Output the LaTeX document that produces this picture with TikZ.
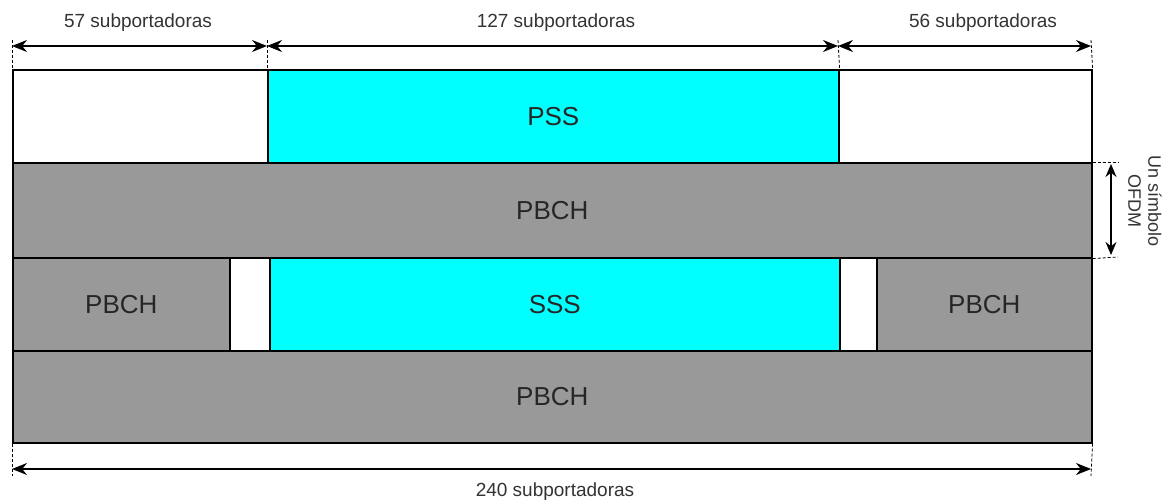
\documentclass[tikz,border=0pt]{standalone}
\usepackage{fontspec}
\setmainfont{Liberation Sans}
\usetikzlibrary{arrows.meta}
\definecolor{bandgray}{HTML}{999999}
\definecolor{sigcyan}{HTML}{00FFFF}
\begin{document}
\begin{tikzpicture}[x=1pt,y=-1pt,
  cell/.style={draw=black,line width=1.6pt,inner sep=0pt,text=black!85,font=\fontsize{26}{28}\selectfont},
  graycell/.style={cell,fill=bandgray},
  cyancell/.style={cell,fill=sigcyan},
  whitecell/.style={cell,fill=white},
  dim/.style={line width=1.8pt,{Stealth[length=15pt,width=12pt]}-{Stealth[length=15pt,width=12pt]}},
  tick/.style={densely dashed,line width=0.8pt},
  lbl/.style={font=\fontsize{19}{20}\selectfont,text=black!80,inner sep=0pt}]
\useasboundingbox (0,0) rectangle (1169,502);
% first symbol: PSS between two empty blocks
\node[whitecell,minimum width=255pt,minimum height=93pt,anchor=north west] (w1) at (12,69) {};
\node[cyancell,minimum width=571pt,minimum height=93pt,anchor=north west] (pss) at (267,69) {PSS};
\node[whitecell,minimum width=253pt,minimum height=93pt,anchor=north west] (w2) at (838,69) {};
% second symbol
\node[graycell,minimum width=1079pt,minimum height=95pt,anchor=north west] (pbch1) at (12,162) {PBCH};
% third symbol: PBCH, guard, SSS, guard, PBCH
\node[graycell,minimum width=217pt,minimum height=93pt,anchor=north west] (pbchl) at (12,257) {PBCH};
\node[whitecell,minimum width=40pt,minimum height=93pt,anchor=north west] (g1) at (229,257) {};
\node[cyancell,minimum width=570pt,minimum height=93pt,anchor=north west] (sss) at (269,257) {SSS};
\node[whitecell,minimum width=37pt,minimum height=93pt,anchor=north west] (g2) at (839,257) {};
\node[graycell,minimum width=215pt,minimum height=93pt,anchor=north west] (pbchr) at (876,257) {PBCH};
% fourth symbol
\node[graycell,minimum width=1079pt,minimum height=92pt,anchor=north west] (pbch2) at (12,350) {PBCH};

% top dimension ticks
\coordinate (t0) at (12,40);
\coordinate (t1) at (267,40);
\coordinate (t2) at (838,40);
\coordinate (t3) at (1091,40);
\draw[tick] (t0) -- (w1.north west);
\draw[tick] (t1) -- (pss.north west);
\draw[tick] (t2) -- (pss.north east);
\draw[tick] (t3) -- (w2.north east);
\coordinate (a0) at (12,46);
\coordinate (a1) at (267,46);
\coordinate (a2) at (838,46);
\coordinate (a3) at (1091,46);
\draw[dim] (a0) -- (a1);
\draw[dim] (a1) -- (a2);
\draw[dim] (a2) -- (a3);
\node[lbl] (l57) at (138,23) {57 subportadoras};
\node[lbl] (l127) at (556,23) {127 subportadoras};
\node[lbl] (l56) at (983,23) {56 subportadoras};

% bottom dimension
\coordinate (b0) at (12,476);
\coordinate (b3) at (1091,476);
\draw[tick] (pbch2.south west) -- (b0);
\draw[tick] (pbch2.south east) -- (b3);
\coordinate (c0) at (12,469);
\coordinate (c3) at (1091,469);
\draw[dim] (c0) -- (c3);
\node[lbl] (l240) at (555,492) {240 subportadoras};

% one OFDM symbol height
\coordinate (r0) at (1118,162);
\coordinate (r1) at (1118,257);
\draw[tick] (pbch1.north east) -- (r0);
\draw[tick] (pbch1.south east) -- (r1);
\coordinate (s0) at (1111,164);
\coordinate (s1) at (1111,255);
\draw[line width=1.8pt,{Stealth[length=13pt,width=11pt]}-{Stealth[length=13pt,width=11pt]}] (s0) -- (s1);
\node[lbl,rotate=-90,align=center,font=\fontsize{18}{20}\selectfont] (lsym) at (1145,201) {Un símbolo\\OFDM};
\end{tikzpicture}
\end{document}
